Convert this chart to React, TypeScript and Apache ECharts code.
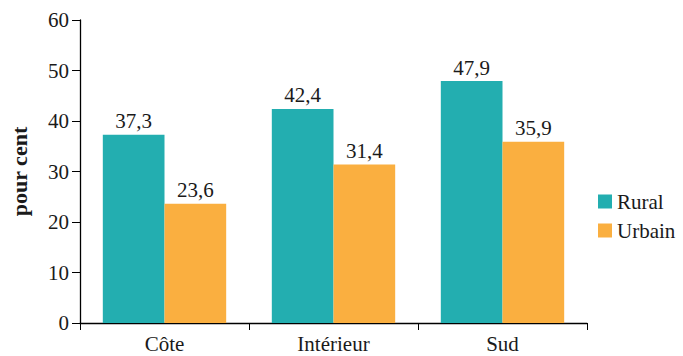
import React, { useEffect, useRef } from "react";
import * as echarts from "echarts";

const categories = ["Côte", "Intérieur", "Sud"];
const rural = [37.3, 42.4, 47.9];
const urbain = [23.6, 31.4, 35.9];
const seriesNames = ["Rural", "Urbain"];
const yTicks = { min: 0, max: 60, interval: 10 };

const FONT = "Liberation Serif";
const TEXT = "#1a1a1a";
const FS = 21;

export default function App() {
  const ref = useRef<HTMLDivElement>(null);
  useEffect(() => {
    if (!ref.current) return;
    const chart = echarts.init(ref.current, undefined, { renderer: "svg" });
    const fmt = (p: any) => String(p.value).replace(".", ",");
    chart.setOption({
      animation: false,
      textStyle: { fontFamily: FONT, color: TEXT },
      grid: { left: 79, right: 96, top: 20, bottom: 33, containLabel: false },
      legend: {
        orient: "vertical",
        left: 593,
        top: 186,
        itemWidth: 14,
        itemHeight: 14,
        itemGap: 8,
        icon: "rect",
        textStyle: { fontFamily: FONT, fontSize: FS, color: TEXT },
        data: seriesNames,
      },
      xAxis: {
        type: "category",
        data: categories,
        axisLine: { lineStyle: { color: "#000", width: 1.3 } },
        axisTick: { show: true, length: 7, lineStyle: { color: "#000" } },
        axisLabel: { fontFamily: FONT, fontSize: FS, color: TEXT, margin: 10 },
      },
      yAxis: {
        type: "value",
        min: yTicks.min,
        max: yTicks.max,
        interval: yTicks.interval,
        name: "pour cent",
        nameLocation: "middle",
        nameGap: 50,
        nameTextStyle: { fontFamily: FONT, fontSize: 22, fontWeight: "bold", color: TEXT },
        axisLine: { show: true, lineStyle: { color: "#000", width: 1.3 } },
        axisTick: { show: true, length: 8, lineStyle: { color: "#000" } },
        axisLabel: { fontFamily: FONT, fontSize: FS, color: TEXT, margin: 11 },
        splitLine: { show: false },
      },
      series: [
        {
          name: seriesNames[0],
          type: "bar",
          data: rural,
          barGap: "0%",
          barCategoryGap: "27%",
          itemStyle: { color: "#23AEB0" },
          label: { show: true, position: "top", distance: 3, formatter: fmt, fontFamily: FONT, fontSize: FS, color: TEXT },
        },
        {
          name: seriesNames[1],
          type: "bar",
          data: urbain,
          barGap: "0%",
          barCategoryGap: "27%",
          itemStyle: { color: "#FAAF40" },
          label: { show: true, position: "top", distance: 3, formatter: fmt, fontFamily: FONT, fontSize: FS, color: TEXT },
        },
      ],
    });
    return () => chart.dispose();
  }, []);
  return (
    <div
      ref={ref}
      style={{ position: "absolute", left: 0, top: 0, width: 683, height: 356 }}
    />
  );
}
